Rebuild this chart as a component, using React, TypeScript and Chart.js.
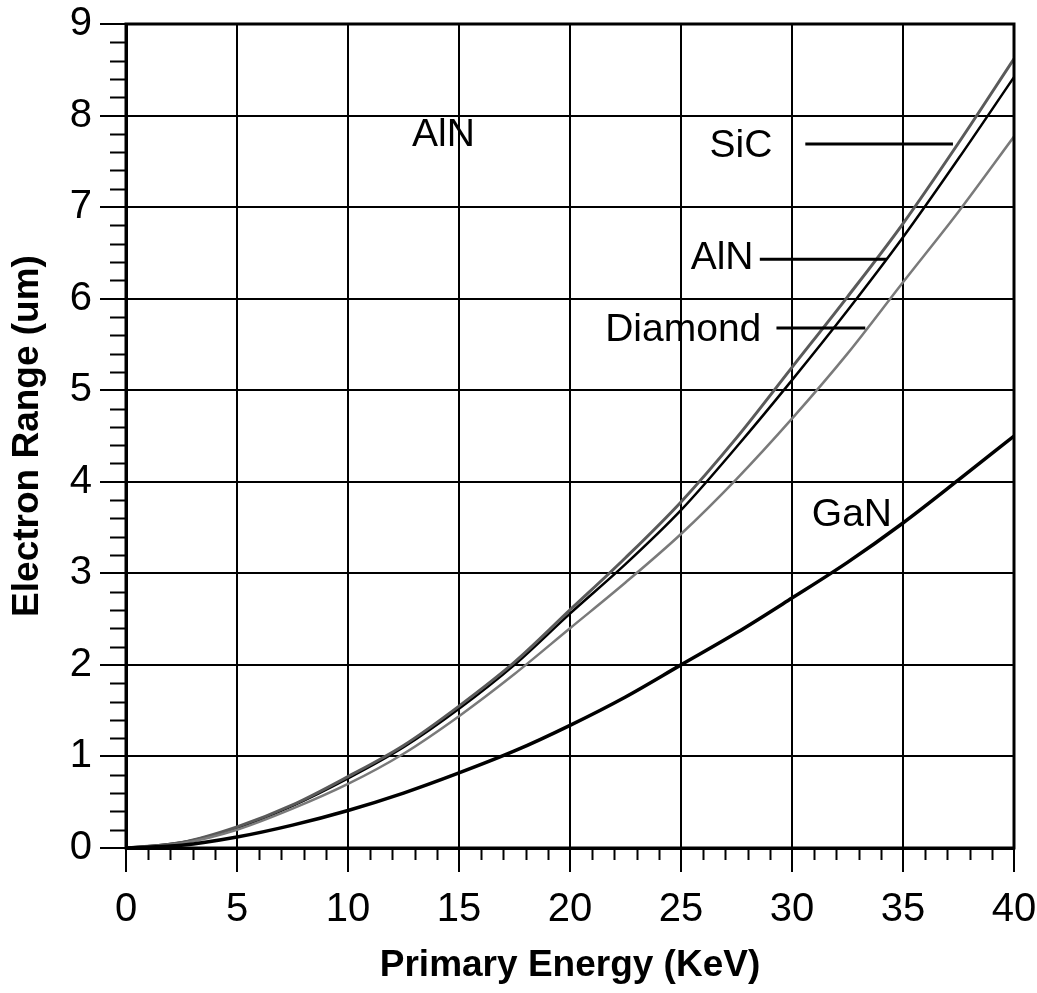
import React, { useEffect, useRef } from "react";
import { Chart, registerables } from "chart.js";

Chart.register(...registerables);

// Primary energy (keV)
const energy = [0, 2.5, 5, 7.5, 10, 12.5, 15, 17.5, 20, 22.5, 25, 27.5, 30, 32.5, 35, 37.5, 40];
// Electron range (um)
const sic = [0, 0.06, 0.23, 0.47, 0.78, 1.12, 1.55, 2.03, 2.6, 3.17, 3.78, 4.48, 5.25, 6.02, 6.82, 7.7, 8.62];
const aln = [0, 0.06, 0.22, 0.46, 0.76, 1.1, 1.52, 2.0, 2.56, 3.1, 3.69, 4.38, 5.11, 5.87, 6.67, 7.53, 8.42];
const diamond = [0, 0.05, 0.2, 0.43, 0.7, 1.03, 1.44, 1.9, 2.4, 2.9, 3.43, 4.03, 4.69, 5.4, 6.18, 6.95, 7.77];
const gan = [0, 0.03, 0.12, 0.25, 0.41, 0.6, 0.82, 1.06, 1.34, 1.65, 2.0, 2.35, 2.73, 3.12, 3.55, 4.02, 4.5];

const xMin = 0;
const xMax = 40;
const xStep = 5;
const yMin = 0;
const yMax = 9;
const yStep = 1;

// Text labels placed in data coordinates
const labelTexts = ["AlN", "SiC", "AlN", "Diamond", "GaN"];
const labelX = [14.3, 27.7, 26.85, 25.1, 32.7];
const labelY = [7.78, 7.67, 6.44, 5.65, 3.63];
// Leader lines (data coordinates)
const leaderX1 = [30.6, 28.55, 29.3];
const leaderX2 = [37.25, 34.28, 33.3];
const leaderY = [7.69, 6.43, 5.68];

const FONT = "'Liberation Sans', Arial, Helvetica, sans-serif";

const pts = (ys: number[]) => energy.map((x, i) => ({ x, y: ys[i] }));

const decorPlugin = {
  id: "decor",
  afterDraw(chart: any) {
    const { ctx, chartArea } = chart;
    const xs = chart.scales.x;
    const ys = chart.scales.y;
    ctx.save();
    ctx.strokeStyle = "#000";
    // minor ticks
    ctx.lineWidth = 2;
    ctx.beginPath();
    for (let v = yMin; v <= yMax + 1e-9; v += 0.2) {
      const r = Math.round(v * 10) / 10;
      if (Math.abs(r - Math.round(r)) < 1e-6) continue;
      const py = Math.round(ys.getPixelForValue(r)) + 0.5;
      ctx.moveTo(chartArea.left - 16, py);
      ctx.lineTo(chartArea.left, py);
    }
    for (let v = xMin; v <= xMax; v += 1) {
      if (v % xStep === 0) continue;
      const px = Math.round(xs.getPixelForValue(v)) + 0.5;
      ctx.moveTo(px, chartArea.bottom);
      ctx.lineTo(px, chartArea.bottom + 12);
    }
    ctx.stroke();
    // frame
    ctx.lineWidth = 3;
    ctx.strokeRect(chartArea.left, chartArea.top, chartArea.right - chartArea.left, chartArea.bottom - chartArea.top);
    // leader lines
    ctx.lineWidth = 3;
    ctx.beginPath();
    for (let i = 0; i < leaderY.length; i++) {
      const py = ys.getPixelForValue(leaderY[i]);
      ctx.moveTo(xs.getPixelForValue(leaderX1[i]), py);
      ctx.lineTo(xs.getPixelForValue(leaderX2[i]), py);
    }
    ctx.stroke();
    // labels
    ctx.fillStyle = "#000";
    ctx.font = `39px ${FONT}`;
    ctx.textAlign = "center";
    ctx.textBaseline = "middle";
    for (let i = 0; i < labelTexts.length; i++) {
      ctx.fillText(labelTexts[i], xs.getPixelForValue(labelX[i]), ys.getPixelForValue(labelY[i]));
    }
    ctx.restore();
  },
};

export default function App() {
  const ref = useRef<HTMLCanvasElement | null>(null);
  useEffect(() => {
    if (!ref.current) return;
    const chart = new Chart(ref.current, {
      type: "line",
      data: {
        datasets: [
          { label: "GaN", data: pts(gan), borderColor: "#000", borderWidth: 3.5 },
          { label: "Diamond", data: pts(diamond), borderColor: "#7a7a7a", borderWidth: 2.5 },
          { label: "SiC", data: pts(sic), borderColor: "#5a5a5a", borderWidth: 3 },
          { label: "AlN", data: pts(aln), borderColor: "#000", borderWidth: 2.5 },
        ],
      },
      options: {
        responsive: false,
        animation: false,
        devicePixelRatio: 1,
        layout: { padding: { top: 24, right: 23, bottom: 0, left: 0 } },
        elements: {
          point: { radius: 0 },
          line: { cubicInterpolationMode: "monotone", fill: false },
        },
        plugins: { legend: { display: false }, tooltip: { enabled: false } },
        scales: {
          x: {
            type: "linear",
            min: xMin,
            max: xMax,
            ticks: { stepSize: xStep, color: "#000", font: { family: FONT, size: 40 }, padding: 14, maxRotation: 0 },
            grid: { color: "#000", lineWidth: 2, tickLength: 24 },
            border: { display: true, color: "#000", width: 3 },
            title: {
              display: true,
              text: "Primary Energy (KeV)",
              color: "#000",
              font: { family: FONT, size: 37, weight: "bold" },
              padding: { top: 0, bottom: 5 },
            },
            afterFit: (s: any) => {
              s.height = 145;
              s.paddingLeft = 0;
              s.paddingRight = 0;
            },
          },
          y: {
            type: "linear",
            min: yMin,
            max: yMax,
            ticks: { stepSize: yStep, color: "#000", font: { family: FONT, size: 40 }, padding: 8 },
            grid: { color: "#000", lineWidth: 2, tickLength: 26 },
            border: { display: true, color: "#000", width: 3 },
            title: {
              display: true,
              text: "Electron Range (um)",
              color: "#000",
              font: { family: FONT, size: 37, weight: "bold" },
              padding: { top: 6, bottom: 0 },
            },
            afterFit: (s: any) => {
              s.width = 126;
              s.paddingTop = 0;
              s.paddingBottom = 0;
            },
          },
        },
      },
      plugins: [decorPlugin],
    });
    return () => chart.destroy();
  }, []);
  return (
    <div style={{ position: "absolute", left: 0, top: 0, width: 1037, height: 993, background: "#fff" }}>
      <canvas ref={ref} width={1037} height={993} />
    </div>
  );
}
